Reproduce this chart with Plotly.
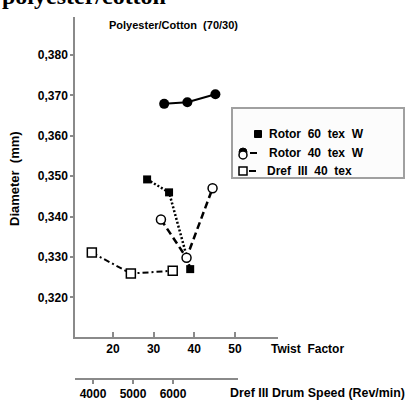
import plotly.graph_objects as go

# ---- data ----
rotor60_circ_x = [32.6, 38.3, 45.2]
rotor60_circ_y = [0.3679, 0.3683, 0.3703]

rotor60_sq_x = [28.4, 33.8, 39.0]
rotor60_sq_y = [0.3492, 0.3460, 0.3270]

rotor40_x = [31.8, 38.1, 44.5]
rotor40_y = [0.3393, 0.3298, 0.3470]

dref_x = [14.8, 24.4, 34.7]
dref_y = [0.3311, 0.3259, 0.3266]

twist_ticks = [20, 30, 40, 50]
diam_ticks = [0.320, 0.330, 0.340, 0.350, 0.360, 0.370, 0.380]
diam_ticktext = ["0,320", "0,330", "0,340", "0,350", "0,360", "0,370", "0,380"]
drum_ticks = [4000, 5000, 6000]

# ---- layout geometry (pixels) ----
W, H = 410, 402
L, R, T, B = 75, 132, 17, 24
PW, PH = W - L - R, H - T - B

def px(x):
    return (x - L) / PW

def py(y):
    return 1 + (T - y) / PH

FONT = "Liberation Sans, Arial, sans-serif"
AX = "#8a8a8a"

fig = go.Figure()

fig.add_trace(go.Scatter(
    x=rotor60_circ_x, y=rotor60_circ_y, mode="lines+markers",
    line=dict(color="black", width=2),
    marker=dict(symbol="circle", size=10, color="black"),
    name="Rotor 60 tex W"))

fig.add_trace(go.Scatter(
    x=rotor60_sq_x, y=rotor60_sq_y, mode="lines+markers",
    line=dict(color="black", width=2.5, dash="2px,2px"),
    marker=dict(symbol="square", size=8, color="black"),
    name="Rotor 60 tex W (sq)"))

fig.add_trace(go.Scatter(
    x=rotor40_x, y=rotor40_y, mode="lines+markers",
    line=dict(color="black", width=2.5, dash="7px,4px"),
    marker=dict(symbol="circle", size=9, color="white",
                line=dict(color="black", width=1.5)),
    name="Rotor 40 tex W"))

fig.add_trace(go.Scatter(
    x=dref_x, y=dref_y, mode="lines+markers",
    line=dict(color="black", width=2, dash="6px,3px,2px,3px"),
    marker=dict(symbol="square", size=9, color="white",
                line=dict(color="black", width=1.5)),
    name="Dref III 40 tex"))

# empty trace to host the secondary (drum speed) axis
fig.add_trace(go.Scatter(x=[], y=[], xaxis="x2", yaxis="y2",
                         showlegend=False, hoverinfo="skip"))

tickfont = dict(family=FONT, size=12, color="black", weight="bold")

fig.update_layout(
    width=W, height=H,
    margin=dict(l=L, r=R, t=T, b=B, pad=0, autoexpand=False),
    paper_bgcolor="white", plot_bgcolor="white",
    showlegend=False,
    font=dict(family=FONT, color="black"),
    xaxis=dict(
        range=[10.66, 60.6], domain=[0, 1], anchor="y", automargin=False,
        showgrid=False, zeroline=False,
        showline=True, linecolor=AX, linewidth=1.5,
        ticks="inside", ticklen=5, tickcolor=AX, tickwidth=1.5,
        tickvals=twist_ticks, tickfont=tickfont,
    ),
    yaxis=dict(
        range=[0.3102, 0.3894], domain=[(378 - 337) / PH, 1], anchor="x",
        automargin=False,
        showgrid=False, zeroline=False,
        showline=True, linecolor=AX, linewidth=1.5,
        ticks="outside", ticklen=3, tickcolor=AX, tickwidth=1.5,
        tickvals=diam_ticks, ticktext=diam_ticktext, tickfont=tickfont,
    ),
    xaxis2=dict(
        range=[3550, 7625], domain=[0, px(238)], anchor="y2", automargin=False,
        showgrid=False, zeroline=False,
        showline=True, linecolor=AX, linewidth=1.5,
        ticks="outside", ticklen=4, tickcolor=AX, tickwidth=1.5,
        tickvals=drum_ticks, tickfont=tickfont,
    ),
    yaxis2=dict(
        domain=[0, 0.01], anchor="x2", range=[0, 1], automargin=False,
        visible=False,
    ),
)

ann = []
# cut-off heading at the very top (cropped in the reference too)
ann.append(dict(text="polyester/cotton", x=px(0), y=py(11), xref="paper", yref="paper",
                xanchor="left", yanchor="bottom", showarrow=False,
                font=dict(family="Liberation Serif, Times New Roman, serif", size=24,
                          color="black", weight="bold")))
ann.append(dict(text="Polyester/Cotton\u00a0 (70/30)", x=px(107), y=py(25),
                xref="paper", yref="paper", xanchor="left", yanchor="middle",
                showarrow=False, font=dict(family=FONT, size=11, weight="bold")))
ann.append(dict(text="Twist\u00a0 Factor", x=px(269), y=py(349),
                xref="paper", yref="paper", xanchor="left", yanchor="middle",
                showarrow=False, font=dict(family=FONT, size=12, weight="bold")))
ann.append(dict(text="Dref III Drum Speed (Rev/min)", x=px(228), y=py(393),
                xref="paper", yref="paper", xanchor="left", yanchor="middle",
                showarrow=False, font=dict(family=FONT, size=12.4, weight="bold")))
ann.append(dict(text="Diameter\u00a0 (mm)", x=px(14), y=py(178),
                xref="paper", yref="paper", xanchor="center", yanchor="middle",
                textangle=-90, showarrow=False,
                font=dict(family=FONT, size=13, weight="bold")))
# legend texts
for txt, xx, yy in [("Rotor\u00a0 60\u00a0 tex\u00a0 W", 267, 134),
                    ("Rotor\u00a0 40\u00a0 tex\u00a0 W", 267, 153),
                    ("Dref\u00a0 III\u00a0 40\u00a0 tex", 265, 171)]:
    ann.append(dict(text=txt, x=px(xx), y=py(yy), xref="paper", yref="paper",
                    xanchor="left", yanchor="middle", showarrow=False,
                    font=dict(family=FONT, size=12, weight="bold")))
fig.update_layout(annotations=ann)

shapes = []
# legend box
shapes.append(dict(type="rect", xref="paper", yref="paper",
                   x0=px(232), x1=px(404), y0=py(178), y1=py(108),
                   line=dict(color="#a0a0a0", width=2), fillcolor="#fcfcfc", layer="below"))
# item 1: filled square
shapes.append(dict(type="rect", xref="paper", yref="paper",
                   x0=px(254.5), x1=px(261.5), y0=py(137.5), y1=py(130.5),
                   line=dict(color="black", width=1), fillcolor="black"))
# item 2: overprinted circles
shapes.append(dict(type="circle", xref="paper", yref="paper",
                   x0=px(239), x1=px(247), y0=py(156), y1=py(148),
                   line=dict(color="black", width=1), fillcolor="black"))
shapes.append(dict(type="circle", xref="paper", yref="paper",
                   x0=px(239), x1=px(247), y0=py(159), y1=py(151),
                   line=dict(color="black", width=1.5), fillcolor="white"))
shapes.append(dict(type="line", xref="paper", yref="paper",
                   x0=px(250), x1=px(257), y0=py(153), y1=py(153),
                   line=dict(color="black", width=2)))
# item 3: open square
shapes.append(dict(type="rect", xref="paper", yref="paper",
                   x0=px(239), x1=px(247), y0=py(175), y1=py(167),
                   line=dict(color="black", width=1.5), fillcolor="white"))
shapes.append(dict(type="line", xref="paper", yref="paper",
                   x0=px(249), x1=px(256), y0=py(171), y1=py(171),
                   line=dict(color="black", width=2)))
fig.update_layout(shapes=shapes)

fig.write_html("out.html")
